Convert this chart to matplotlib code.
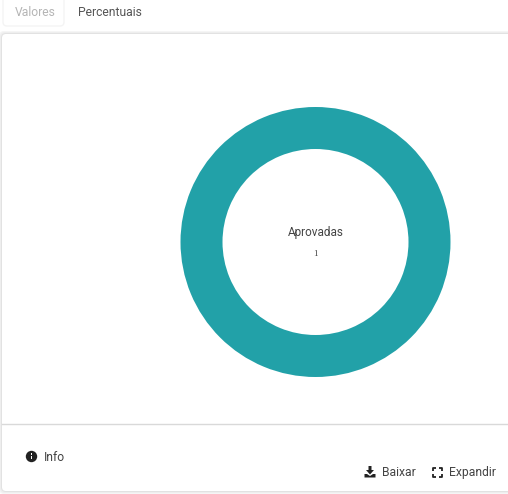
import matplotlib
matplotlib.use('Agg')
import matplotlib.pyplot as plt
from matplotlib.patches import FancyBboxPatch, Rectangle, Circle, Polygon

plt.rcParams['font.family'] = ['Roboto', 'DejaVu Sans']

W, H = 508, 494

labels = ['Aprovadas']
values = [1]
colors = ['#22a1a8']

fig = plt.figure(figsize=(W / 100, H / 100), dpi=100, facecolor='white')

# page layer, in pixels from the top left
bg = fig.add_axes([0, 0, 1, 1])
bg.set_xlim(0, W)
bg.set_ylim(H, 0)
bg.axis('off')

# tab box and card shadow
bg.add_patch(FancyBboxPatch((3, -6), 61, 32, boxstyle='round,pad=0,rounding_size=4',
                            fc='white', ec='#f4f4f4', lw=1))
for grow, col in [(3, '#f5f5f5'), (2, '#eeeeee'), (1, '#e2e2e2')]:
    bg.add_patch(FancyBboxPatch((2 - grow, 34 - grow), 520 + grow, 457 + grow * 2,
                                boxstyle='round,pad=0,rounding_size=5', fc=col, ec='none'))
bg.add_patch(FancyBboxPatch((2, 34), 520, 457, boxstyle='round,pad=0,rounding_size=4',
                            fc='white', ec='none'))
bg.plot([2, W], [423.5, 423.5], color='#d9d9d9', lw=1)

bg.text(15, 12.5, 'Valores', fontsize=8.7, color='#b5b5b5', va='center', ha='left')
bg.text(78, 12.5, 'Percentuais', fontsize=8.7, color='#555555', va='center', ha='left')

# info icon
bg.add_patch(Circle((31.5, 456.5), 5.7, fc='#222222', ec='none'))
bg.add_patch(Rectangle((30.8, 455.6), 1.5, 3.8, fc='white', ec='none'))
bg.add_patch(Rectangle((30.8, 453.2), 1.5, 1.4, fc='white', ec='none'))
bg.text(44, 457, 'Info', fontsize=8.7, color='#444444', va='center', ha='left')

# download icon
bg.add_patch(Polygon([[368.5, 466], [371.5, 466], [371.5, 470], [374, 470], [370, 474.5], [366, 470], [368.5, 470]],
                     fc='#222222', ec='none'))
bg.add_patch(Polygon([[364.5, 474], [367, 474], [370, 476], [373, 474], [375.5, 474], [375.5, 477.5], [364.5, 477.5]],
                     fc='#222222', ec='none'))
bg.text(382, 472, 'Baixar', fontsize=8.7, color='#444444', va='center', ha='left')

# expand icon
x0, x1, y0, y1 = 433, 442, 467.5, 476.5
for cx, cy, sx, sy in [(x0, y0, 1, 1), (x1, y0, -1, 1), (x0, y1, 1, -1), (x1, y1, -1, -1)]:
    bg.plot([cx, cx, cx + 3 * sx], [cy + 3 * sy, cy, cy], color='#222222', lw=1.3, solid_capstyle='butt')
bg.text(449, 472, 'Expandir', fontsize=8.7, color='#444444', va='center', ha='left')

# donut
cx, cy, r = 315.5, 242, 135
ax = fig.add_axes([(cx - r) / W, 1 - (cy + r) / H, 2 * r / W, 2 * r / H])
ax.pie(values, colors=colors, radius=1, startangle=90, wedgeprops={'width': 42 / 135, 'edgecolor': 'none'})
ax.set_xlim(-1, 1)
ax.set_ylim(-1, 1)
ax.text(0, 10 / 135, labels[0], fontsize=8.5, color='#444444', ha='center', va='center')
ax.text(0, -11.5 / 135, str(values[0]), fontsize=6.5, color='#444444', ha='center', va='center',
        family=['Liberation Serif', 'DejaVu Sans'])

fig.savefig('out.png', dpi=100, facecolor='white')
